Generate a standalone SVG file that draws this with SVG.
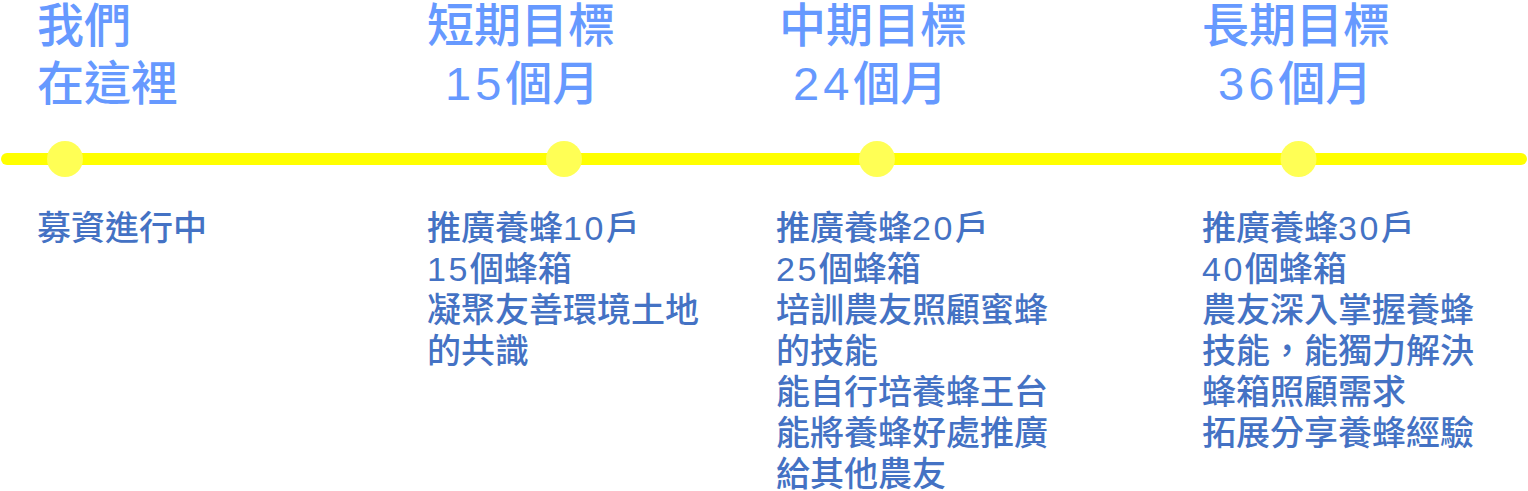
<svg xmlns="http://www.w3.org/2000/svg" width="1528" height="491" viewBox="0 0 1528 491">
  <style>
    .title { font-family: "Liberation Sans", "Noto Sans CJK TC", "Noto Sans CJK SC", sans-serif; font-size: 47px; font-weight: 500; fill: #6699FF; }
    .body { font-family: "Liberation Sans", "Noto Sans CJK TC", "Noto Sans CJK SC", sans-serif; font-size: 34px; font-weight: 500; fill: #4472C4; }
    .tnum { letter-spacing: 4px; }
    .bnum { letter-spacing: 2.5px; }
    .dot { fill: #FFFF55; }
    .timeline { stroke: #FFFF00; stroke-width: 12; stroke-linecap: round; fill: none; }
  </style>
  <rect width="1528" height="491" fill="#FFFFFF"/>
  <g id="connectors">
    <line class="timeline" x1="7" y1="159" x2="1521" y2="159"/>
  </g>
  <g id="node-now">
    <circle class="dot" cx="65" cy="159" r="18"/>
    <text class="title" x="37" y="42">我們</text>
    <text class="title" x="37" y="100">在這裡</text>
    <text class="body" x="37" y="240">募資進行中</text>
  </g>
  <g id="node-short">
    <circle class="dot" cx="564" cy="159" r="18"/>
    <text class="title" x="427" y="42">短期目標</text>
    <text class="title" x="445" y="100"><tspan class="tnum">15</tspan>個月</text>
    <text class="body">
      <tspan x="427" y="240">推廣養蜂<tspan class="bnum">10</tspan>戶</tspan>
      <tspan x="427" y="281"><tspan class="bnum">15</tspan>個蜂箱</tspan>
      <tspan x="427" y="322">凝聚友善環境土地</tspan>
      <tspan x="427" y="363">的共識</tspan>
    </text>
  </g>
  <g id="node-mid">
    <circle class="dot" cx="877" cy="159" r="18"/>
    <text class="title" x="779" y="42">中期目標</text>
    <text class="title" x="793" y="100"><tspan class="tnum">24</tspan>個月</text>
    <text class="body">
      <tspan x="776" y="240">推廣養蜂<tspan class="bnum">20</tspan>戶</tspan>
      <tspan x="776" y="281"><tspan class="bnum">25</tspan>個蜂箱</tspan>
      <tspan x="776" y="322">培訓農友照顧蜜蜂</tspan>
      <tspan x="776" y="363">的技能</tspan>
      <tspan x="776" y="404">能自行培養蜂王台</tspan>
      <tspan x="776" y="445">能將養蜂好處推廣</tspan>
      <tspan x="776" y="486">給其他農友</tspan>
    </text>
  </g>
  <g id="node-long">
    <circle class="dot" cx="1298.5" cy="159" r="18"/>
    <text class="title" x="1202" y="42">長期目標</text>
    <text class="title" x="1218" y="100"><tspan class="tnum">36</tspan>個月</text>
    <text class="body">
      <tspan x="1202" y="240">推廣養蜂<tspan class="bnum">30</tspan>戶</tspan>
      <tspan x="1202" y="281"><tspan class="bnum">40</tspan>個蜂箱</tspan>
      <tspan x="1202" y="322">農友深入掌握養蜂</tspan>
      <tspan x="1202" y="363">技能，能獨力解決</tspan>
      <tspan x="1202" y="404">蜂箱照顧需求</tspan>
      <tspan x="1202" y="445">拓展分享養蜂經驗</tspan>
    </text>
  </g>
</svg>
